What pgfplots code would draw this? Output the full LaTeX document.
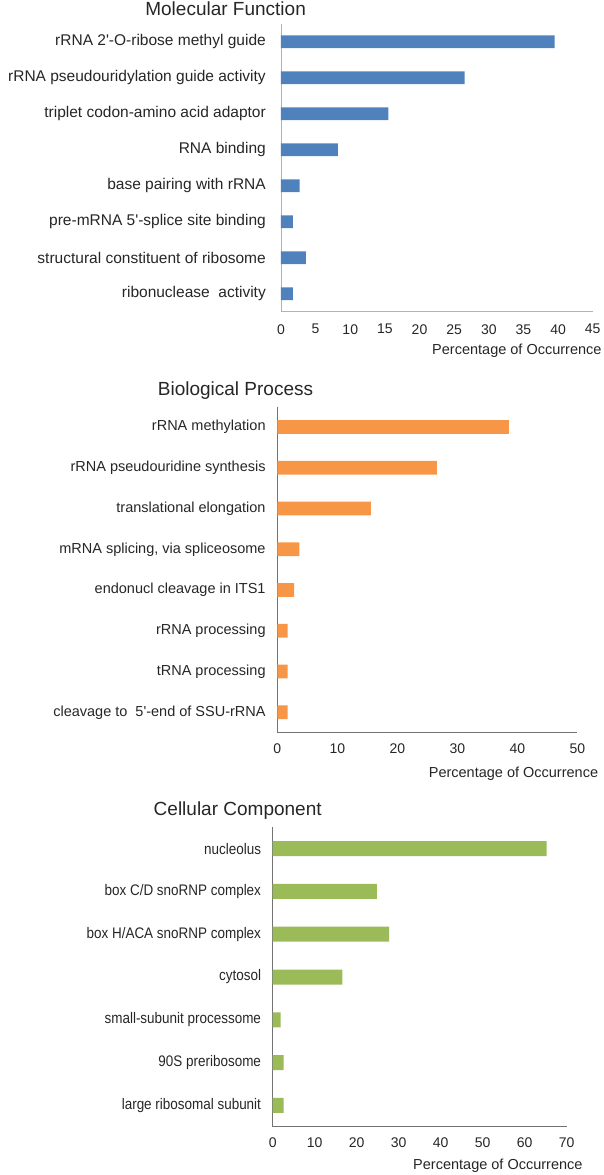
\documentclass[border=0pt]{standalone}
\usepackage{fontspec}
\setmainfont{Liberation Sans}
\newfontfamily\condfont[FakeStretch=0.88]{Liberation Sans}
\usepackage{pgfplots}
\pgfplotsset{compat=1.18}
\definecolor{mfblue}{HTML}{4F81BD}
\definecolor{bporange}{HTML}{F79646}
\definecolor{ccgreen}{HTML}{9BBB59}
\definecolor{txt}{HTML}{262626}
\newcommand{\q}{\textquotesingle}
\pgfplotsset{
  gostyle/.style={
    scale only axis,
    axis x line*=bottom, axis y line*=left,
    y dir=reverse,
    xmin=0,
    major tick length=0pt,
    tick style={draw=none},
    /pgf/number format/assume math mode=true,
    xticklabel style={font=\fontsize{14}{16}\selectfont, text=txt, yshift=-7pt},
    yticklabel style={text=txt, anchor=east, inner sep=0pt},
    xlabel={Percentage of Occurrence},
    xlabel style={at={(axis description cs:1,0)}, anchor=east, inner sep=0pt,
      font=\fontsize{14.5}{17}\selectfont, text=txt},
    clip=false,
  }
}
\begin{document}
\begin{tikzpicture}
\path[use as bounding box] (0,0) rectangle (603pt,-1175pt);
% ---------------- Molecular Function
\node[anchor=base, font=\fontsize{19}{22}\selectfont, text=txt] at (225.6pt,-16pt) {Molecular Function};
\begin{axis}[gostyle,
  at={(281pt,-23.7pt)}, anchor=north west,
  width=311.7pt, height=288pt,
  xmax=45, xtick={0,5,...,45},
  ymin=0.5, ymax=8.5, ytick={1,...,8},
  axis line style={-, draw=black!30, line width=0.8pt},
  xticklabel style={yshift=-2pt},
  yticklabel style={font=\fontsize{15.5}{18}\selectfont, xshift=-15pt},
  yticklabels={rRNA 2\q-O-ribose methyl guide, rRNA pseudouridylation guide activity, triplet codon-amino acid adaptor, RNA binding, base pairing with rRNA, pre-mRNA 5\q-splice site binding, structural constituent of ribosome, ribonuclease\ \ activity},
  xlabel style={xshift=9pt, yshift=-39pt},
]
\addplot[xbar, fill=mfblue, draw=none, bar width=12.7pt] coordinates {
 (39.5,1) (26.5,2) (15.5,3) (8.2,4) (2.7,5) (1.7,6) (3.6,7) (1.7,8)};
\end{axis}
% ---------------- Biological Process
\node[anchor=base, font=\fontsize{19}{22}\selectfont, text=txt] at (235.5pt,-395pt) {Biological Process};
\begin{axis}[gostyle,
  at={(277.3pt,-406.6pt)}, anchor=north west,
  width=300pt, height=326.1pt,
  xmax=50, xtick={0,10,...,50},
  ymin=0.5, ymax=8.5, ytick={1,...,8},
  axis line style={-, draw=black!55, line width=0.8pt},
  yticklabel style={font=\fontsize{14.5}{17}\selectfont, xshift=-11.5pt},
  yticklabels={rRNA methylation, rRNA pseudouridine synthesis, translational elongation, {mRNA splicing, via spliceosome}, endonucl cleavage in ITS1, rRNA processing, tRNA processing, cleavage to\ \ 5\q-end of SSU-rRNA},
  xlabel style={xshift=21pt, yshift=-41pt},
]
\addplot[xbar, fill=bporange, draw=none, bar width=13.7pt] coordinates {
 (38.6,1) (26.6,2) (15.6,3) (3.7,4) (2.8,5) (1.7,6) (1.7,7) (1.7,8)};
\end{axis}
% ---------------- Cellular Component
\node[anchor=base, font=\fontsize{19}{22}\selectfont, text=txt] at (237.7pt,-815pt) {Cellular Component};
\begin{axis}[gostyle,
  at={(272.7pt,-827.3pt)}, anchor=north west,
  width=294pt, height=299.4pt,
  xmax=70, xtick={0,10,...,70},
  ymin=0.5, ymax=7.5, ytick={1,...,7},
  axis line style={-, draw=black!55, line width=0.8pt},
  yticklabel style={font=\condfont\fontsize{15.3}{18}\selectfont, xshift=-11.5pt},
  yticklabels={nucleolus, box C/D snoRNP complex, box H/ACA snoRNP complex, cytosol, small-subunit processome, 90S preribosome, large ribosomal subunit},
  xlabel style={xshift=16pt, yshift=-39pt},
]
\addplot[xbar, fill=ccgreen, draw=none, bar width=15pt] coordinates {
 (65.2,1) (24.8,2) (27.7,3) (16.6,4) (1.9,5) (2.6,6) (2.6,7)};
\end{axis}
\end{tikzpicture}
\end{document}
